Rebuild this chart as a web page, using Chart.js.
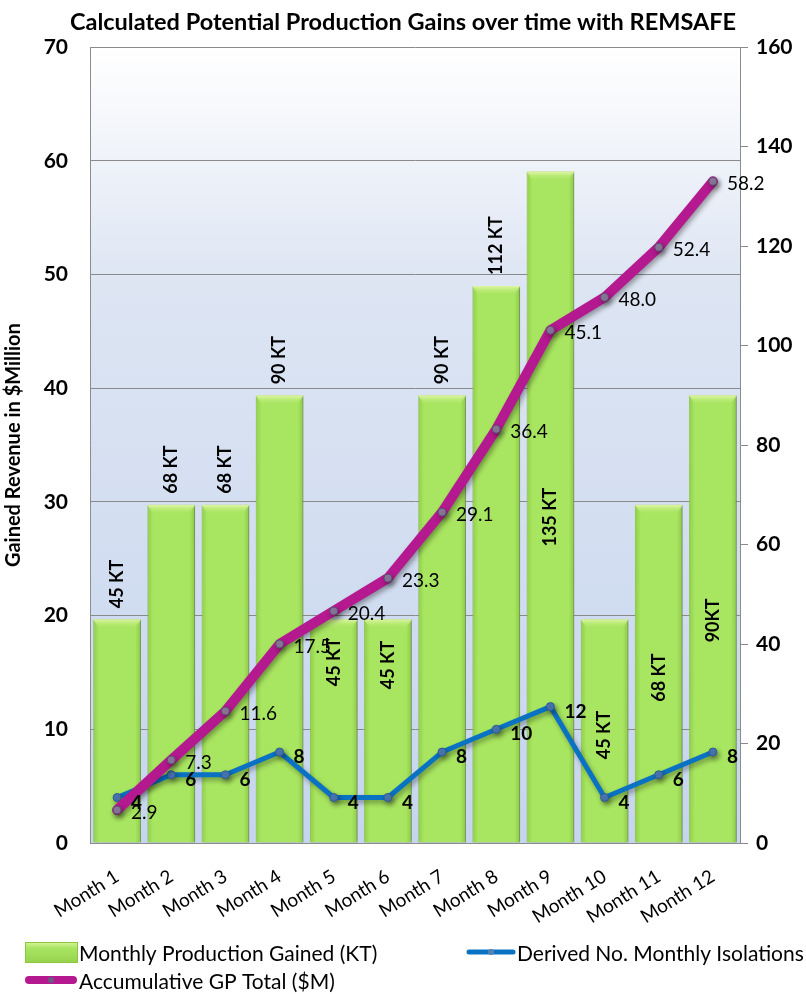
<!DOCTYPE html>
<html>
<head>
<meta charset="utf-8">
<script src="https://cdn.jsdelivr.net/npm/chart.js@4.4.1/dist/chart.umd.min.js"></script>
<style>
  body { margin: 0; background: #fff; }
  #wrap { width: 806px; height: 994px; }
</style>
</head>
<body>
<div id="wrap"><canvas id="comboChart" width="806" height="994"></canvas></div>
<script>
const months = ['Month 1', 'Month 2', 'Month 3', 'Month 4', 'Month 5', 'Month 6',
  'Month 7', 'Month 8', 'Month 9', 'Month 10', 'Month 11', 'Month 12'];

// KT per month (right axis)
const production = [45, 68, 68, 90, 45, 45, 90, 112, 135, 45, 68, 90];
const productionText = ['45 KT', '68 KT', '68 KT', '90 KT', '45 KT', '45 KT',
  '90 KT', '112 KT', '135 KT', '45 KT', '68 KT', '90KT'];

// $M running total (left axis)
const accumulative = [2.9, 7.3, 11.6, 17.5, 20.4, 23.3, 29.1, 36.4, 45.1, 48.0, 52.4, 58.2];
const isolations = [4, 6, 6, 8, 4, 4, 8, 10, 12, 4, 6, 8];

const leftTicks = [0, 10, 20, 30, 40, 50, 60, 70];
const rightTicks = [0, 20, 40, 60, 80, 100, 120, 140, 160];

// where the bar label sits: null = above the bar, number = px below bar top (text end)
const barLabelInside = [null, null, null, null, 67, 70, null, null, 375, 140, 197, 247];

const FONT = 'Lato, "Open Sans", sans-serif';

const barFill = (c) => {
  const chart = c.chart;
  if (!chart.chartArea) return '#a6e35c';
  const x = chart.scales.x.getPixelForValue(c.dataIndex);
  const w = chart.scales.x.width / months.length * 0.88;
  const g = chart.ctx.createLinearGradient(x - w / 2, 0, x + w / 2, 0);
  g.addColorStop(0, '#8fcf47');
  g.addColorStop(0.12, '#a8e560');
  g.addColorStop(0.88, '#a8e560');
  g.addColorStop(1, '#8ccb45');
  return g;
};

const plotBg = {
  id: 'plotBg',
  beforeDraw(chart) {
    const { ctx, chartArea: a } = chart;
    const g = ctx.createLinearGradient(0, a.top, 0, a.bottom);
    g.addColorStop(0, '#ffffff');
    g.addColorStop(0.3, '#dde5f3');
    g.addColorStop(1, '#c6d5ee');
    ctx.save();
    ctx.fillStyle = g;
    ctx.fillRect(a.left, a.top, a.right - a.left, a.bottom - a.top);
    ctx.restore();
  }
};

const shadows = {
  id: 'shadows',
  beforeDatasetDraw(chart, args) {
    const ctx = chart.ctx;
    ctx.save();
    if (args.meta.type === 'bar') {
      ctx.shadowColor = 'rgba(60,60,60,0.5)';
      ctx.shadowBlur = 4;
      ctx.shadowOffsetX = 2;
      ctx.shadowOffsetY = 0;
    } else {
      ctx.shadowColor = 'rgba(0,0,0,0.35)';
      ctx.shadowBlur = 5;
      ctx.shadowOffsetX = 2;
      ctx.shadowOffsetY = 3;
    }
  },
  afterDatasetDraw(chart, args) {
    const ctx = chart.ctx;
    ctx.restore();
    if (args.meta.type !== 'bar') return;
    // light bevel on top of each bar
    args.meta.data.forEach(bar => {
      const l = bar.x - bar.width / 2, r = bar.x + bar.width / 2, t = bar.y;
      const g = ctx.createLinearGradient(0, t, 0, t + 10);
      g.addColorStop(0, '#e2f8a8');
      g.addColorStop(1, 'rgba(168,229,96,0)');
      ctx.save();
      ctx.fillStyle = g;
      ctx.beginPath();
      ctx.moveTo(l, t);
      ctx.lineTo(r, t);
      ctx.lineTo(r - 6, t + 10);
      ctx.lineTo(l + 6, t + 10);
      ctx.closePath();
      ctx.fill();
      ctx.restore();
    });
  }
};

const valueLabels = {
  id: 'valueLabels',
  afterDatasetsDraw(chart) {
    const ctx = chart.ctx;
    ctx.save();
    ctx.fillStyle = '#000';
    ctx.textBaseline = 'middle';
    ctx.textAlign = 'left';

    // accumulative total labels
    ctx.font = '19px ' + FONT;
    chart.getDatasetMeta(0).data.forEach((p, i) => {
      ctx.fillText(accumulative[i].toFixed(1), p.x + 14, p.y + 3);
    });

    // isolations labels
    ctx.font = 'bold 19px ' + FONT;
    chart.getDatasetMeta(1).data.forEach((p, i) => {
      ctx.fillText(String(isolations[i]), p.x + 14, p.y + 5);
    });

    // bar labels, rotated
    ctx.font = 'bold 18px ' + FONT;
    chart.getDatasetMeta(2).data.forEach((bar, i) => {
      ctx.save();
      ctx.translate(bar.x, bar.y);
      ctx.rotate(-Math.PI / 2);
      ctx.textBaseline = 'middle';
      ctx.textAlign = 'left';
      if (barLabelInside[i] === null) {
        ctx.fillText(productionText[i], 11, 0);
      } else {
        ctx.fillText(productionText[i], -barLabelInside[i], 0);
      }
      ctx.restore();
    });
    ctx.restore();
  }
};

const customLegend = {
  id: 'customLegend',
  afterDraw(chart) {
    const ctx = chart.ctx;
    ctx.save();
    ctx.font = '21px ' + FONT;
    ctx.textBaseline = 'middle';
    ctx.textAlign = 'left';

    // green swatch
    const g = ctx.createLinearGradient(0, 942, 0, 963);
    g.addColorStop(0, '#d8f59c');
    g.addColorStop(0.3, '#a8e560');
    g.addColorStop(1, '#96d24d');
    ctx.fillStyle = g;
    ctx.fillRect(25, 942, 53, 21);
    ctx.strokeStyle = '#8cc63f';
    ctx.lineWidth = 1;
    ctx.strokeRect(25.5, 942.5, 52, 20);
    ctx.fillStyle = '#000';
    ctx.fillText('Monthly Production Gained (KT)', 79, 954);

    // blue line
    ctx.strokeStyle = '#0a72c2';
    ctx.lineWidth = 5;
    ctx.lineCap = 'round';
    ctx.beginPath(); ctx.moveTo(469, 952); ctx.lineTo(513, 952); ctx.stroke();
    ctx.fillStyle = '#5a7fb5';
    ctx.beginPath(); ctx.arc(491, 952, 3, 0, Math.PI * 2); ctx.fill();
    ctx.fillStyle = '#000';
    ctx.fillText('Derived No. Monthly Isolations', 517, 954);

    // purple line
    ctx.strokeStyle = '#b5198f';
    ctx.lineWidth = 8;
    ctx.beginPath(); ctx.moveTo(29, 980); ctx.lineTo(73, 980); ctx.stroke();
    ctx.fillStyle = '#6d5a86';
    ctx.beginPath(); ctx.arc(51, 980, 3, 0, Math.PI * 2); ctx.fill();
    ctx.fillStyle = '#000';
    ctx.fillText('Accumulative GP Total ($M)', 79, 982);
    ctx.restore();
  }
};

const ctx = document.getElementById('comboChart');

new Chart(ctx, {
  type: 'bar',
  data: {
    labels: months,
    datasets: [
      {
        type: 'line',
        label: 'Accumulative GP Total ($M)',
        data: accumulative,
        yAxisID: 'y',
        borderColor: '#b5198f',
        borderWidth: 10,
        borderJoinStyle: 'round',
        borderCapStyle: 'round',
        pointRadius: 4,
        pointBackgroundColor: '#8c7a9c',
        pointBorderColor: '#5d4a72',
        pointBorderWidth: 1,
        tension: 0,
        order: 1
      },
      {
        type: 'line',
        label: 'Derived No. Monthly Isolations',
        data: isolations,
        yAxisID: 'y',
        borderColor: '#0a72c2',
        borderWidth: 5,
        borderJoinStyle: 'round',
        pointRadius: 4,
        pointBackgroundColor: '#4a78b4',
        pointBorderColor: '#2c5a94',
        pointBorderWidth: 1,
        tension: 0,
        order: 2
      },
      {
        type: 'bar',
        label: 'Monthly Production Gained (KT)',
        data: production,
        yAxisID: 'y1',
        backgroundColor: barFill,
        borderColor: '#93cf4c',
        borderWidth: 1,
        barPercentage: 0.88,
        categoryPercentage: 1,
        order: 3
      }
    ]
  },
  options: {
    responsive: false,
    animation: false,
    layout: { padding: { left: 0, right: 0, top: 0, bottom: 67 } },
    plugins: {
      legend: { display: false },
      tooltip: { enabled: false },
      title: {
        display: true,
        text: 'Calculated Potential Production Gains over time with REMSAFE',
        color: '#000',
        font: { family: FONT, size: 23.5, weight: 'bold' },
        padding: { top: 8, bottom: 11 }
      }
    },
    scales: {
      x: {
        grid: { display: false },
        border: { color: '#8c8c8c' },
        ticks: {
          color: '#000',
          font: { family: FONT, size: 19 },
          minRotation: 32,
          maxRotation: 32,
          padding: 14
        },
        afterFit(scale) { scale.height = 84; }
      },
      y: {
        position: 'left',
        min: 0,
        max: 70,
        afterBuildTicks(scale) { scale.ticks = leftTicks.map(v => ({ value: v })); },
        grid: { color: '#8a8a8a', lineWidth: 1, drawTicks: false },
        border: { color: '#8c8c8c' },
        ticks: {
          color: '#000',
          font: { family: FONT, size: 21, weight: 'bold' },
          padding: 22
        },
        title: {
          display: true,
          text: 'Gained Revenue in $Million',
          color: '#000',
          font: { family: FONT, size: 20, weight: 'bold' },
          padding: { top: 2, bottom: 0 }
        },
        afterFit(scale) { scale.width = 90; }
      },
      y1: {
        position: 'right',
        min: 0,
        max: 160,
        afterBuildTicks(scale) { scale.ticks = rightTicks.map(v => ({ value: v })); },
        grid: { drawOnChartArea: false, color: '#8a8a8a', tickLength: 8 },
        border: { color: '#8c8c8c' },
        ticks: {
          color: '#000',
          font: { family: FONT, size: 21, weight: 'bold' },
          padding: 8
        },
        afterFit(scale) { scale.width = 66; }
      }
    }
  },
  plugins: [plotBg, shadows, valueLabels, customLegend]
});
</script>
</body>
</html>
